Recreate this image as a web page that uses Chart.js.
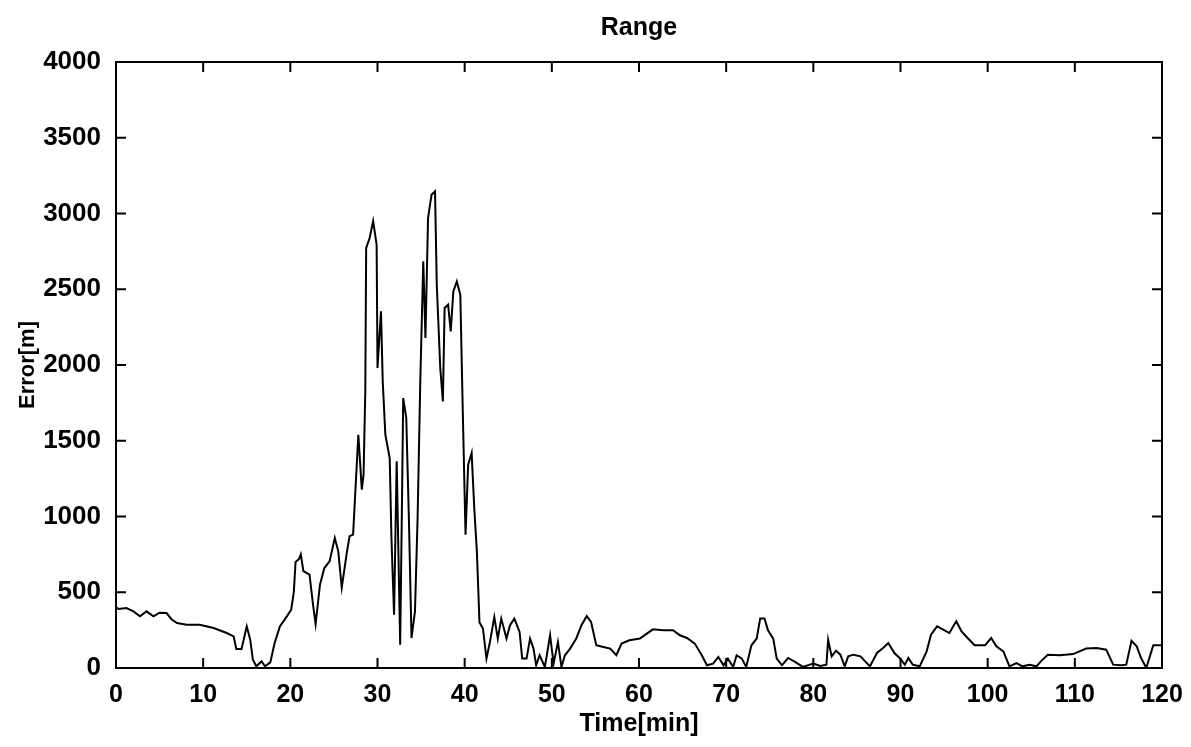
<!DOCTYPE html>
<html>
<head>
<meta charset="utf-8">
<script src="https://cdn.jsdelivr.net/npm/chart.js@4.4.1/dist/chart.umd.min.js"></script>
<style>
  body { margin: 0; background: #fff; }
  #wrap { width: 1191px; height: 747px; }
</style>
</head>
<body>
<div id="wrap"><canvas id="rangeChart"></canvas></div>
<script>
// time axis (minutes) and range error (m)
const timeMin = [
	0, 0.3, 1.2, 2.0, 2.75, 3.5, 4.3, 5.0, 5.8, 6.4,
	7.0, 8.1, 9.6, 11.2, 12.7, 13.5, 13.8, 14.4, 14.7, 15.0,
	15.4, 15.7, 16.1, 16.7, 17.1, 17.7, 18.2, 18.8, 19.6, 20.1,
	20.4, 20.6, 21.0, 21.2, 21.5, 22.2, 22.6, 22.9, 23.4, 23.9,
	24.5, 25.1, 25.5, 25.9, 26.5, 26.8, 27.2, 27.4, 27.8, 28.2,
	28.4, 28.6, 28.7, 29.1, 29.5, 29.9, 30.0, 30.4, 30.6, 30.9,
	31.4, 31.6, 31.9, 32.2, 32.6, 32.8, 32.95, 33.3, 33.6, 33.9,
	34.3, 34.6, 34.9, 35.25, 35.5, 35.8, 36.2, 36.6, 36.8, 37.2,
	37.5, 37.7, 38.1, 38.4, 38.7, 39.1, 39.5, 39.8, 40.1, 40.4,
	40.8, 41.1, 41.4, 41.7, 42.1, 42.5, 42.9, 43.4, 43.8, 44.2,
	44.8, 45.2, 45.7, 46.3, 46.6, 47.1, 47.5, 47.9, 48.2, 48.6,
	49.2, 49.8, 50.2, 50.7, 51.1, 51.5, 52.1, 52.8, 53.4, 54.0,
	54.5, 55.1, 55.9, 56.7, 57.4, 58.0, 58.9, 60.1, 60.9, 61.6,
	62.8, 63.9, 64.7, 65.5, 66.4, 67.2, 67.8, 68.5, 69.1, 69.7,
	70.2, 70.8, 71.2, 71.8, 72.3, 72.9, 73.5, 73.9, 74.4, 74.8,
	75.4, 75.8, 76.4, 77.1, 77.9, 78.8, 80.0, 80.8, 81.5, 81.7,
	82.1, 82.6, 83.1, 83.6, 84.0, 84.6, 85.4, 86.5, 87.3, 88.0,
	88.6, 89.3, 89.9, 90.5, 90.9, 91.4, 92.2, 93.0, 93.5, 94.2,
	94.9, 95.6, 96.4, 97.0, 97.7, 98.5, 99.7, 100.4, 101.0, 101.8,
	102.5, 103.3, 104.0, 104.8, 105.6, 106.1, 106.9, 108.3, 109.8, 111.3,
	112.5, 113.6, 114.4, 115.3, 115.9, 116.5, 117.1, 117.6, 118.2, 119.0, 120.0
]
const errorM = [
	400, 390, 396, 374, 341, 374, 341, 365, 363, 320,
	297, 286, 286, 264, 231, 209, 125, 125, 200, 275,
	187, 55, 11, 44, 11, 37, 165, 275, 341, 385,
	500, 700, 720, 750, 640, 616, 420, 290, 550, 660,
	704, 858, 770, 530, 770, 870, 880, 1100, 1540, 1177,
	1276, 1826, 2772, 2838, 2950, 2794, 1980, 2354, 1892, 1540,
	1386, 858, 352, 1364, 154, 1056, 1782, 1650, 990, 198,
	374, 990, 1870, 2684, 2178, 2970, 3124, 3146, 2530, 1980,
	1760, 2376, 2398, 2222, 2486, 2552, 2464, 1650, 880, 1342,
	1419, 1056, 770, 300, 260, 62, 172, 337, 194, 326,
	194, 282, 326, 238, 62, 62, 194, 128, 18, 84,
	7, 216, 29, 172, 7, 84, 128, 194, 282, 343,
	304, 150, 139, 128, 84, 161, 183, 194, 227, 255,
	249, 249, 216, 198, 161, 84, 18, 29, 73, 18,
	62, 7, 84, 62, 7, 150, 194, 326, 326, 249,
	194, 62, 18, 66, 40, 7, 29, 13, 22, 187,
	77, 114, 88, 11, 77, 88, 77, 11, 99, 132,
	165, 99, 66, 22, 66, 22, 11, 110, 220, 275,
	253, 231, 308, 242, 198, 150, 150, 198, 143, 110,
	11, 33, 11, 22, 11, 44, 88, 84, 92, 128,
	132, 121, 22, 18, 22, 180, 143, 66, 0, 150, 150
]
const xTicks = [0, 10, 20, 30, 40, 50, 60, 70, 80, 90, 100, 110, 120]
const yTicks = [0, 500, 1000, 1500, 2000, 2500, 3000, 3500, 4000]

const points = timeMin.map((t, i) => ({ x: t, y: errorM[i] }))

// matlab style box with inward ticks
const boxTicks = {
	id: "boxTicks",
	afterDraw: chart => {
		const ctx = chart.ctx
		const { left, right, top, bottom } = chart.chartArea
		const xs = chart.scales.x
		const ys = chart.scales.y
		ctx.save()
		ctx.strokeStyle = "#000"
		ctx.lineWidth = 2
		ctx.strokeRect(left, top, right - left, bottom - top)
		ctx.beginPath()
		xTicks.forEach(v => {
			const px = xs.getPixelForValue(v)
			ctx.moveTo(px, bottom); ctx.lineTo(px, bottom - 10)
			ctx.moveTo(px, top); ctx.lineTo(px, top + 10)
		})
		yTicks.forEach(v => {
			const py = ys.getPixelForValue(v)
			ctx.moveTo(left, py); ctx.lineTo(left + 10, py)
			ctx.moveTo(right, py); ctx.lineTo(right - 10, py)
		})
		ctx.stroke()
		ctx.restore()
	},
}

Chart.defaults.font.family = "'Liberation Sans', Arial, sans-serif"
Chart.defaults.color = "#000"

const rangeChart = new Chart(document.getElementById("rangeChart"), {
	type: "line",
	data: {
		datasets: [
			{
				data: points,
				borderColor: "#000",
				borderWidth: 2,
				pointRadius: 0,
				tension: 0,
				fill: false,
			},
		],
	},
	options: {
		responsive: true,
		maintainAspectRatio: false,
		animation: false,
		layout: { padding: { left: 0, right: 29, top: 0, bottom: 0 } },
		plugins: {
			legend: { display: false },
			tooltip: { enabled: false },
			title: { display: false },
		},
		scales: {
			// top axis only carries the plot title, centred over the plot box
			top: {
				type: "linear",
				position: "top",
				min: 0,
				max: 120,
				grid: { display: false },
				border: { display: false },
				ticks: { display: false },
				title: { display: true, text: "Range", color: "#000", font: { size: 25, weight: "bold" }, padding: { top: 13, bottom: 0 } },
				afterFit: scale => { scale.height = 62 },
			},
			x: {
				type: "linear",
				min: 0,
				max: 120,
				grid: { display: false },
				border: { display: false },
				ticks: { stepSize: 10, padding: 4, color: "#000", font: { size: 25, weight: "bold" } },
				title: { display: true, text: "Time[min]", color: "#000", font: { size: 25, weight: "bold" }, padding: { top: 0, bottom: 8 } },
				afterFit: scale => { scale.height = 79 },
			},
			y: {
				min: 0,
				max: 4000,
				grid: { display: false },
				border: { display: false },
				ticks: {
					stepSize: 500,
					padding: 7,
					color: "#000",
					font: { size: 26, weight: "bold" },
					callback: v => String(v),
				},
				title: { display: true, text: "Error[m]", color: "#000", font: { size: 22, weight: "bold" }, padding: { top: 15, bottom: 0 } },
				afterFit: scale => { scale.width = 116 },
			},
		},
	},
	plugins: [boxTicks],
})
</script>
</body>
</html>
